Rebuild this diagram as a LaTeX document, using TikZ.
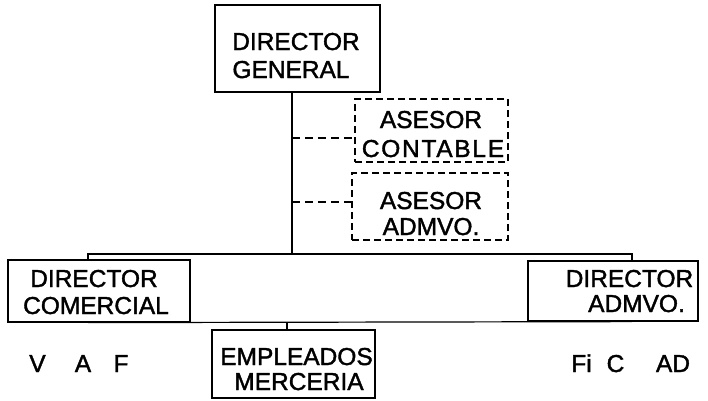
\documentclass[tikz,border=0pt]{standalone}
\usepackage{fontspec}
\setmainfont{Liberation Sans}[BoldFont=Liberation Sans, BoldFeatures={FakeBold=1.6}]
\begin{document}
\begin{tikzpicture}[x=1pt,y=1pt,
  box/.style={draw, line width=1.2pt, inner sep=0pt},
  dbox/.style={box, dash pattern=on 7pt off 4pt},
  conn/.style={line width=1.2pt},
  dconn/.style={line width=1.2pt, dash pattern=on 8pt off 5pt},
  lbl/.style={font=\fontsize{24.5}{28}\selectfont\bfseries, inner sep=0pt, anchor=base}]
\useasboundingbox (0,0) rectangle (708,-400);
% boxes
\node[box, minimum width=165, minimum height=87] (dg) at (297.5,-48.5) {};
\node[dbox, minimum width=153, minimum height=63] (ac) at (431.5,-130.5) {};
\node[dbox, minimum width=156, minimum height=67] (aa) at (430,-206.5) {};
\node[box, minimum width=182, minimum height=62] (dc) at (99,-291) {};
\node[box, minimum width=170, minimum height=60] (da) at (613,-291) {};
\node[box, minimum width=163, minimum height=68] (em) at (293.5,-364) {};
% labels
\node[lbl] (t1) at (296,-50) {DIRECTOR};
\node[lbl] (t2) at (291,-78) {GENERAL};
\node[lbl] (t3) at (431,-128) {ASESOR};
\node[lbl] (t4) at (433,-157) {\addfontfeature{LetterSpace=7}CONTABLE};
\node[lbl] (t5) at (431,-209) {ASESOR};
\node[lbl] (t6) at (431,-235) {ADMVO.};
\node[lbl] (t7) at (94,-287) {DIRECTOR};
\node[lbl] (t8) at (96,-314) {COMERCIAL};
\node[lbl] (t9) at (629.5,-287) {DIRECTOR};
\node[lbl] (t10) at (636.5,-312) {ADMVO.};
\node[lbl] (t11) at (296.5,-365) {EMPLEADOS};
\node[lbl] (t12) at (299,-390) {MERCERIA};
\node[lbl] (v) at (37.5,-372) {V};
\node[lbl] (a) at (83,-372) {A};
\node[lbl] (f) at (121,-372) {F};
\node[lbl] (fi) at (581.5,-372) {Fi};
\node[lbl] (c) at (615.5,-372) {C};
\node[lbl] (ad) at (673,-372) {AD};
% connectors
\coordinate (j) at (292,-254);
\coordinate (tl) at (88,-254);
\coordinate (tr) at (632,-254);
\coordinate (e) at (287,-322);
\coordinate (a1) at (292,-138);
\coordinate (a2) at (292,-202);
\draw[conn] (dg.south -| j) -- (j);
\draw[conn] (dc.north -| tl) -- (tl) -- (tr) -- (da.north -| tr);
\draw[conn] (dc.south -| tl) -- (da.south -| tr);
\draw[conn] (e) -- (em.north -| e);
\draw[dconn] (a1) -- (a1 -| ac.west);
\draw[dconn] (a2) -- (a2 -| aa.west);
\end{tikzpicture}
\end{document}
